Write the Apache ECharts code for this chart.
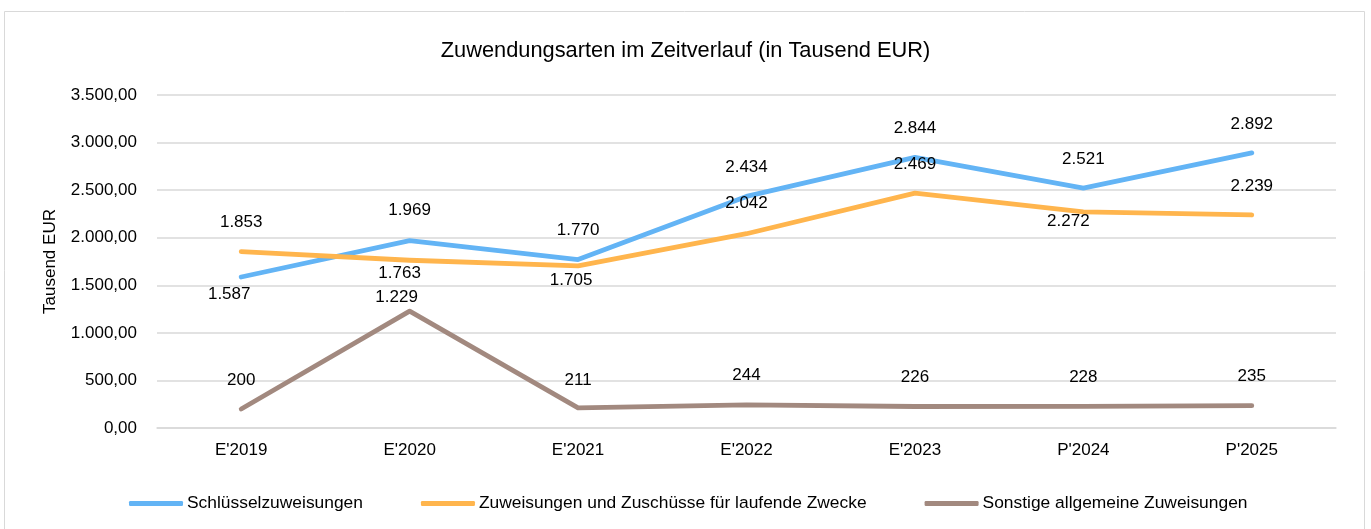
<!DOCTYPE html>
<html>
<head>
<meta charset="utf-8">
<script src="https://cdn.jsdelivr.net/npm/echarts@6/dist/echarts.min.js"></script>
<style>
html,body{margin:0;padding:0;background:#fff;}
#chart{width:1371px;height:529px;}
</style>
</head>
<body>
<div id="chart"></div>
<script>
const categories = ["E'2019", "E'2020", "E'2021", "E'2022", "E'2023", "P'2024", "P'2025"];
const schluesselzuweisungen = [1587, 1969, 1770, 2434, 2844, 2521, 2892];
const zuweisungenLaufend = [1853, 1763, 1705, 2042, 2469, 2272, 2239];
const sonstigeAllgemeine = [200, 1229, 211, 244, 226, 228, 235];
const seriesNames = ["Schlüsselzuweisungen", "Zuweisungen und Zuschüsse für laufende Zwecke", "Sonstige allgemeine Zuweisungen"];

// label offsets (style only): [dx, dy] of label centre relative to point
const offBlue = [[-12, 17], [0, -30], [0, -29], [0, -29], [0, -29], [0, -29], [0, -29]];
const offOrange = [[0, -29], [-10, 13], [-7, 15], [0, -30], [0, -29], [-15, 9], [0, -29]];
const offGray = [[0, -29], [-13, -14], [0, -28], [0, -29], [0, -29], [0, -29], [0, -29]];

const FONT = "'Liberation Sans', Arial, sans-serif";

function fmtDE(v, dec) {
  const parts = v.toFixed(dec).split('.');
  parts[0] = parts[0].replace(/\B(?=(\d{3})+(?!\d))/g, '.');
  return parts.length > 1 ? parts[0] + ',' + parts[1] : parts[0];
}

function buildData(values, offsets) {
  return values.map((v, i) => ({
    value: v,
    label: {
      show: true,
      position: [offsets[i][0], offsets[i][1]],
      align: 'center',
      verticalAlign: 'middle'
    }
  }));
}

function makeSeries(name, values, offsets, color) {
  return {
    name: name,
    type: 'line',
    data: buildData(values, offsets),
    symbol: 'circle',
    symbolSize: 0.01,
    showSymbol: true,
    lineStyle: { color: color, width: 4.8, cap: 'round', join: 'round' },
    itemStyle: { color: color },
    label: {
      show: true,
      color: '#000',
      fontFamily: FONT,
      fontSize: 17,
      formatter: p => fmtDE(p.value, 0)
    },
    labelLayout: { hideOverlap: false },
    silent: true,
    z: 3
  };
}

const chart = echarts.init(document.getElementById('chart'), null, { renderer: 'canvas' });
chart.setOption({
  animation: false,
  backgroundColor: '#fff',
  textStyle: { fontFamily: FONT },
  graphic: [{
    type: 'rect',
    shape: { x: 4.5, y: 11.5, width: 1360, height: 540 },
    style: { fill: 'none', stroke: '#d9d9d9', lineWidth: 1 },
    silent: true,
    z: -1
  }],
  title: {
    text: 'Zuwendungsarten im Zeitverlauf (in Tausend EUR)',
    left: 'center',
    top: 35,
    textStyle: { fontFamily: FONT, fontSize: 21.8, fontWeight: 'normal', color: '#000' }
  },
  legend: {
    left: 129,
    top: 495,
    padding: 0,
    itemWidth: 54,
    itemHeight: 5,
    itemGap: 58,
    icon: 'roundRect',
    textStyle: { fontFamily: FONT, fontSize: 17.4, color: '#000', padding: [0, 0, 0, -1] },
    data: seriesNames
  },
  grid: { left: 157, right: 35, top: 95, bottom: 101, containLabel: false },
  xAxis: {
    type: 'category',
    data: categories,
    boundaryGap: true,
    axisLine: { show: true, lineStyle: { color: '#d9d9d9', width: 1.5 } },
    axisTick: { show: false },
    axisLabel: { color: '#000', fontFamily: FONT, fontSize: 17, margin: 14 }
  },
  yAxis: {
    type: 'value',
    min: 0,
    max: 3500,
    interval: 500,
    name: 'Tausend EUR',
    nameLocation: 'middle',
    nameGap: 98,
    nameTextStyle: { color: '#000', fontFamily: FONT, fontSize: 17 },
    axisLine: { show: false },
    axisTick: { show: false },
    axisLabel: { color: '#000', fontFamily: FONT, fontSize: 17, margin: 20, formatter: v => fmtDE(v, 2) },
    splitLine: { lineStyle: { color: '#d9d9d9', width: 1.5 } }
  },
  series: [
    makeSeries(seriesNames[0], schluesselzuweisungen, offBlue, '#63b4f5'),
    makeSeries(seriesNames[1], zuweisungenLaufend, offOrange, '#ffb54d'),
    makeSeries(seriesNames[2], sonstigeAllgemeine, offGray, '#a2897f')
  ]
});
</script>
</body>
</html>
